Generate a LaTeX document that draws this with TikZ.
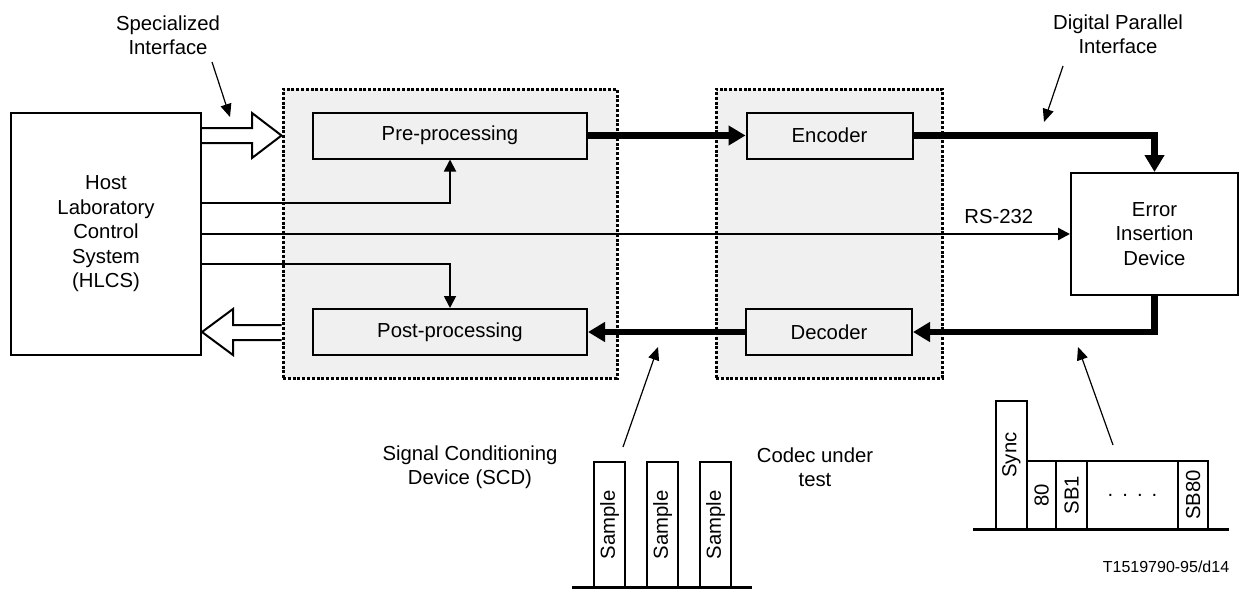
\documentclass[tikz,border=0pt]{standalone}
\usepackage{fontspec}
\setmainfont{Liberation Sans}
\usetikzlibrary{arrows.meta, positioning}
\definecolor{panelgray}{HTML}{F0F0F0}

\begin{document}
\begin{tikzpicture}[
  x=1pt, y=-1pt,
  every node/.style={font=\fontsize{20.3}{24.5}\selectfont, inner sep=0pt},
  panel/.style={draw, fill=panelgray, line width=3pt, dash pattern=on 3pt off 1.8pt},
  unit/.style={draw, fill=panelgray, line width=2pt, minimum height=46pt},
  device/.style={draw, fill=white, line width=2pt, align=center},
  bus/.style={-{Triangle[length=17pt,width=19pt]}, line width=6.5pt},
  wire/.style={-{Triangle[length=12pt,width=12pt]}, line width=1.8pt},
  note/.style={-{Triangle[length=13pt,width=11pt]}, line width=1.2pt},
  hollow/.style={draw, fill=white, line width=2pt, line join=miter},
  cell/.style={draw, fill=white, line width=2pt, rotate=90}
]
\useasboundingbox (0,0) rectangle (1242,589);

% Panels
\node[panel, minimum width=334pt, minimum height=289pt] (scd) at (450,233.5) {};
\node[panel, minimum width=226pt, minimum height=289pt] (codecbox) at (829,233.5) {};

% Units
\node[unit, minimum width=274pt] (pre) at (450,135.5) {Pre-processing};
\node[unit, minimum width=274pt] (post) at (450,332) {Post-processing};
\node[unit, minimum width=166pt] (enc) at (829.5,135.5) {Encoder};
\node[unit, minimum width=166pt] (dec) at (829,332) {Decoder};
\node[device, minimum width=190pt, minimum height=242pt] (hlcs) at (106,234)
  {Host\\Laboratory\\Control\\System\\(HLCS)};
\node[device, minimum width=167pt, minimum height=122pt] (eid) at (1154.5,234)
  {Error\\Insertion\\Device};

% Specialized interface
\draw[hollow] (hlcs.east |- 0,128) -- (252,128) -- (252,113) -- (scd.west |- pre)
  -- (252,158) -- (252,143) -- (hlcs.east |- 0,143);
\draw[hollow] (scd.west |- 0,325) -- (233,325) -- (233,309) -- (hlcs.east |- post)
  -- (233,355) -- (233,340) -- (scd.west |- 0,340);

% Data path
\draw[bus] (pre) -- (enc);
\draw[bus] (enc.east) -| (eid.north);
\draw[bus] (eid.south) |- (dec.east);
\draw[bus] (dec) -- (post);

% Control
\draw[wire] (hlcs.east |- 0,203) -| (pre.south);
\draw[wire, line width=2.4pt] (hlcs) -- (eid) node[pos=0.918, above=9pt] {RS-232};
\draw[wire] (hlcs.east |- 0,264) -| (post.north);

% Labels
\node[align=center] (spec) at (168,35) {Specialized\\Interface};
\node[align=center] (dpi) at (1118,34) {Digital Parallel\\Interface};
\node[align=center] (scdlabel) at (470,467) {Signal Conditioning\\Device (SCD)};
\node[align=center] (codec) at (815,467) {Codec under\\test};
\node[font=\fontsize{16}{19}\selectfont] (figid) at (1166,567) {T1519790-95/d14};

\coordinate (specfrom) at (212,62);
\coordinate (specto) at (230,117);
\coordinate (dpifrom) at (1063,66);
\coordinate (dpito) at (1044,122);
\coordinate (smpfrom) at (623,447);
\coordinate (smpto) at (658,347);
\coordinate (frmfrom) at (1113,445);
\coordinate (frmto) at (1078,347);
\draw[note] (specfrom) -- (specto);
\draw[note] (dpifrom) -- (dpito);
\draw[note] (smpfrom) -- (smpto);
\draw[note] (frmfrom) -- (frmto);

% Samples
\foreach \xc [count=\i] in {609.5, 662.5, 715.5}
  \node[cell, minimum width=126pt, minimum height=31pt] (smp\i) at (\xc,525) {Sample};
\draw[line width=2.5pt] (572,587.5) -- (752,587.5);

% Frame
\node[cell, minimum width=128pt, minimum height=31pt] (sync) at (1011.5,465) {\hspace*{20pt}Sync};
\node[cell, minimum width=68pt, minimum height=29pt] (len) at (1041.5,495) {80};
\node[cell, minimum width=68pt, minimum height=31pt] (sb1) at (1071.5,495) {SB1};
\node[draw, fill=white, line width=2pt, minimum width=91pt, minimum height=68pt] (dots) at (1132.5,495) {.\hspace{9pt}.\hspace{9pt}.\hspace{9pt}.};
\node[cell, minimum width=68pt, minimum height=30pt] (sb80) at (1193,495) {SB80};
\draw[line width=3pt] (973,529) -- (1229,529);
\end{tikzpicture}
\end{document}
